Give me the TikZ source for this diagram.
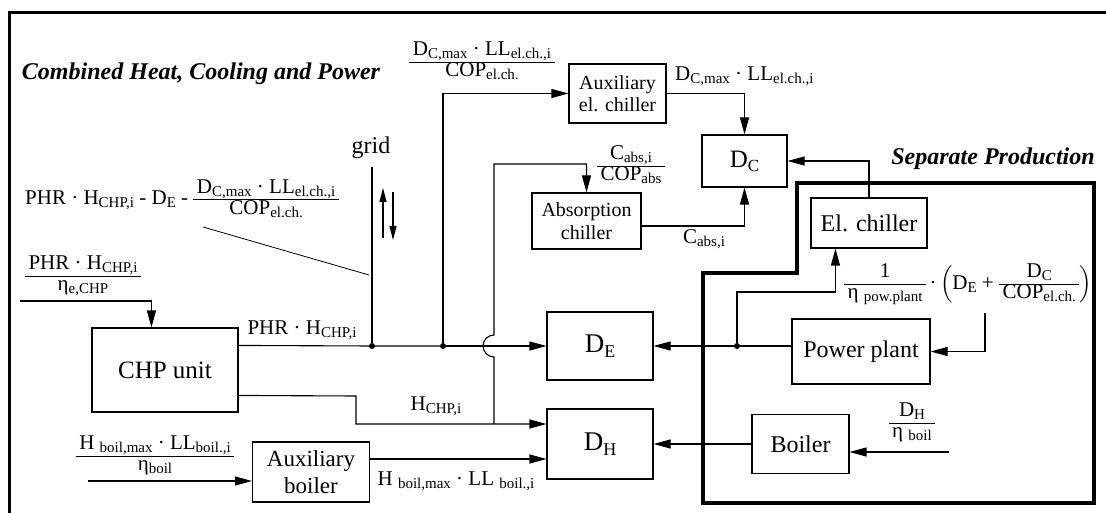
\documentclass[tikz,border=0pt]{standalone}
\usepackage{amsmath}
\usepackage{fontspec}
\setmainfont{Liberation Serif}
\usetikzlibrary{arrows.meta,calc}
\newcommand\fs[2]{\fontsize{#1}{#2}\selectfont}
\newcommand\sbs[1]{\raisebox{-0.3ex}{\fs{15}{15}#1}}
\newcommand\ffrac[2]{\ensuremath{\vcenter{\hbox{\setlength\arrayrulewidth{0.9pt}\renewcommand\arraystretch{0.9}\begin{tabular}{@{\,}c@{\,}}#1\\\hline #2\end{tabular}}}}}
\begin{document}
\begin{tikzpicture}[x=1pt,y=-1pt,
  box/.style={draw,line width=1.1pt,inner sep=0pt,align=center},
  conn/.style={line width=1.1pt},
  arr/.style={conn,-{Triangle[length=17pt,width=9pt]}},
  sarr/.style={line width=1.1pt,-{Triangle[length=14pt,width=7pt]}},
  lbl/.style={inner sep=0pt,font=\fs{21}{23}},
  ttl/.style={inner sep=0pt,font=\fs{24}{24}\bfseries\itshape},
  dot/.style={circle,fill,inner sep=0pt,minimum size=6pt}]
\useasboundingbox (0,0) rectangle (1106,513);
% outer frame
\draw[line width=3pt] (9,520) -- (9,13) -- (1110,13);
% separate production frame
\draw[line width=3.5pt,line join=miter] (703,503) -- (703,273) -- (797,273) -- (797,183) -- (1094,183) -- (1094,503) -- cycle;
% titles
\node[ttl] (t1) at (201,74) {Combined Heat, Cooling and Power};
\node[ttl] (t2) at (993,159) {Separate Production};
% boxes
\node[box,minimum width=146pt,minimum height=84pt,font=\fs{25}{25}] (chp) at (165,370) {CHP unit};
\node[box,minimum width=117pt,minimum height=60pt,font=\fs{23}{27}] (auxb) at (311,472) {Auxiliary\\boiler};
\node[box,minimum width=106pt,minimum height=68pt,font=\fs{27}{27}] (de) at (600,346) {D\raisebox{-0.35ex}{\fs{18}{18}E}};
\node[box,minimum width=106pt,minimum height=70pt,font=\fs{27}{27}] (dh) at (600,444) {D\raisebox{-0.35ex}{\fs{18}{18}H}};
\node[box,minimum width=97pt,minimum height=59pt,font=\fs{20}{22}] (auxel) at (617.5,93.5) {Auxiliary\\el. chiller};
\node[box,minimum width=109pt,minimum height=56pt,font=\fs{20}{23}] (absc) at (586.5,221) {Absorption\\chiller};
\node[box,minimum width=85pt,minimum height=52pt,font=\fs{25}{25}] (dc) at (744.5,161) {D\raisebox{-0.35ex}{\fs{17}{17}C}};
\node[box,minimum width=116pt,minimum height=50pt,font=\fs{24}{24}] (elch) at (869,223) {El. chiller};
\node[box,minimum width=138pt,minimum height=65pt,font=\fs{24}{24}] (pp) at (861,351.5) {Power plant};
\node[box,minimum width=97pt,minimum height=59pt,font=\fs{24}{24}] (boil) at (800.5,444) {Boiler};
% junctions
\node[dot] (j1) at (372,346) {};
\node[dot] (j2) at (443,346) {};
\node[dot] (j3) at (737,346) {};
\coordinate (m0) at ($(chp.north east)+(0,18)$);
\coordinate (gt) at (372,167);
\coordinate (inchp) at (20,301);
\coordinate (chpin) at ($(chp.north west)+(60,0)$);
\coordinate (hc0) at ($(chp.north east)+(0,68)$);
\coordinate (hc1) at (356,396);
\coordinate (dhin1) at ($(dh.west)+(0,-20)$);
\coordinate (dhin2) at ($(dh.west)+(0,15)$);
\coordinate (ja) at (494,424);
\coordinate (jb) at (494,357);
\coordinate (jc) at (494,164);
\coordinate (auxbin) at (88,481);
\coordinate (k1) at (737,292);
\coordinate (elin) at ($(elch.south west)+(25,0)$);
\coordinate (ppin) at (985,313);
\coordinate (boilin) at (949,452);
\coordinate (lead1) at (203,227);
\coordinate (lead2) at (369,275);
% connectors
\draw[arr] (inchp) -| (chpin);
\draw[conn] (m0) -- (j1) -- (j2);
\draw[arr] (j2) -- (de.west);
\draw[conn] (gt) -- (j1);
\draw[arr] (j2) |- (auxel.west);
\draw[arr] (auxel.east) -| (dc.north);
\draw[arr] (hc0) -- (hc1) |- (dhin1);
\draw[arr] (ja) -- (jb) arc[start angle=90,end angle=270,radius=11] -- (jc) -| (absc.north);
\draw[arr] ($(absc.east)+(0,5)$) -| (dc.south);
\draw[arr] (elch.north) |- (dc.east);
\draw[arr] (pp.west |- de.east) -- (de.east);
\draw[arr] (j3) -- (k1) -| (elin);
\draw[arr] (ppin) |- (pp.east);
\draw[arr] (boil.west) -- (dh.east);
\draw[arr] (boilin) -- (boilin -| boil.east);
\draw[arr] (dhin2 -| auxb.east) -- (dhin2);
\draw[arr] (auxbin) -- (auxbin -| auxb.west);
\draw[line width=0.8pt] (lead1) -- (lead2);
\draw[sarr] (383,238) -- (383,188);
\draw[sarr] (393,192) -- (393,240);
% labels
\node[lbl] (l1) at (482,62) {\ffrac{D\sbs{C,max} · LL\sbs{el.ch.,i}}{COP\sbs{el.ch.}}};
\node[lbl,anchor=west] (l2) at (675,76) {D\sbs{C,max} · LL\sbs{el.ch.,i}};
\node[lbl] (l3) at (631,166) {\ffrac{C\sbs{abs,i}}{COP\sbs{abs}}};
\node[lbl,anchor=base west] (l4) at (25,205) {PHR · H\sbs{CHP,i} - D\sbs{E} - \ffrac{D\sbs{C,max} · LL\sbs{el.ch.,i}}{COP\sbs{el.ch.}}};
\node[lbl] (l5) at (83,276) {\ffrac{PHR · H\sbs{CHP,i}}{η\sbs{e,CHP}}};
\node[lbl] (l6) at (302,330) {PHR · H\sbs{CHP,i}};
\node[lbl,font=\fs{24}{24}] (l7) at (371,148) {grid};
\node[lbl] (l8) at (436,406) {H\sbs{CHP,i}};
\node[lbl] (l9) at (155,456) {\ffrac{H \sbs{boil,max} · LL\sbs{boil.,i}}{η\sbs{boil}}};
\node[lbl] (l10) at (456,481) {H \sbs{boil,max} · LL \sbs{boil.,i}};
\node[lbl] (l11) at (704,239) {C\sbs{abs,i}};
\node[lbl] (l12) at (968,284) {$\ffrac{1}{η \sbs{pow.plant}}\text{\,·\,}\Bigl(\text{D\sbs{E} + }\ffrac{D\sbs{C}}{COP\sbs{el.ch.}}\Bigr)$};
\node[lbl] (l13) at (912,423) {\ffrac{D\sbs{H}}{η \sbs{boil}}};
\end{tikzpicture}
\end{document}
